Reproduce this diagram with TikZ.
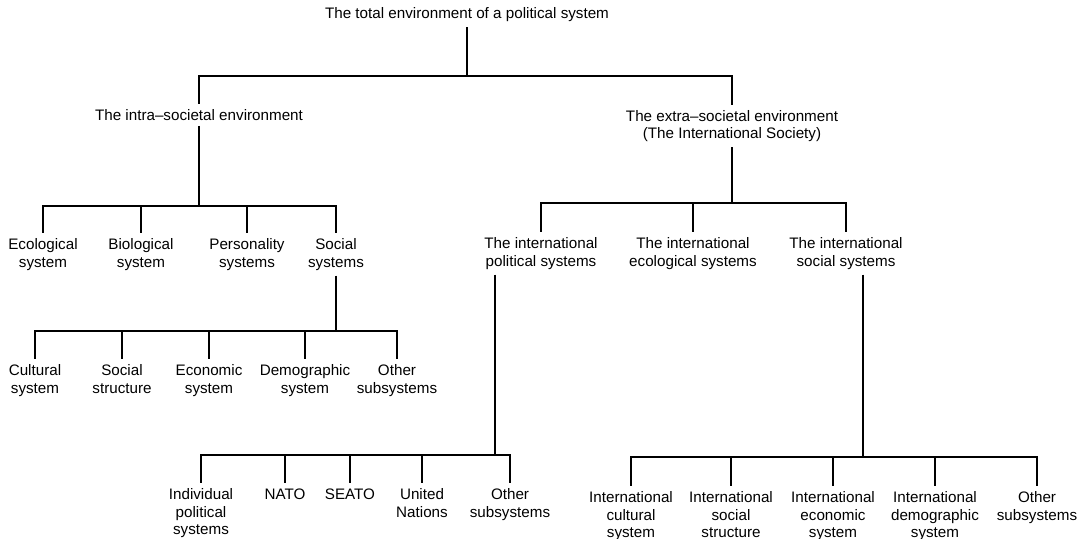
\documentclass[tikz,border=0pt]{standalone}
\usepackage{fontspec}
\setmainfont{Liberation Sans}

\begin{document}
\begin{tikzpicture}[x=0.5pt, y=-0.5pt,
    box/.style={align=center, inner sep=2.5pt, font=\fontsize{7.6}{8.8}\selectfont},
    top/.style={box, anchor=north},
    link/.style={draw, line width=1.1pt}]
\useasboundingbox (0,0) rectangle (1080,538);

\node[box] (total) at (467,15) {The total environment of a political system};
\coordinate (b0) at (467,76);
\path[link] (total) -- (b0);

\node[box] (intra) at (199,115) {The intra--societal environment};
\node[box] (extra) at (732,126) {The extra--societal environment\\(The International Society)};
\path[link] (b0) -| (intra);
\path[link] (b0) -| (extra);

% intra-societal side
\coordinate (b1) at (199,206);
\path[link] (intra) -- (b1);
\node[top] (eco) at (43,233) {Ecological\\system};
\node[top] (bio) at (141,233) {Biological\\system};
\node[top] (pers) at (247,233) {Personality\\systems};
\node[top] (soc) at (336,233) {Social\\systems};
\path[link] (b1) -| (eco);
\path[link] (b1) -| (bio);
\path[link] (b1) -| (pers);
\path[link] (b1) -| (soc);

\coordinate (b2) at (336,331);
\path[link] (soc) -- (b2);
\node[top] (cult) at (35,359) {Cultural\\system};
\node[top] (sstr) at (122,359) {Social\\structure};
\node[top] (econ) at (209,359) {Economic\\system};
\node[top] (demo) at (305,359) {Demographic\\system};
\node[top] (oth1) at (397,359) {Other\\subsystems};
\path[link] (b2) -| (cult);
\path[link] (b2) -| (sstr);
\path[link] (b2) -| (econ);
\path[link] (b2) -| (demo);
\path[link] (b2) -| (oth1);

% extra-societal side
\coordinate (b3) at (732,203);
\path[link] (extra) -- (b3);
\node[top] (ipol) at (541,232) {The international\\political systems};
\node[top] (iecol) at (693,232) {The international\\ecological systems};
\node[top] (isoc) at (846,232) {The international\\social systems};
\path[link] (b3) -| (ipol);
\path[link] (b3) -| (iecol);
\path[link] (b3) -| (isoc);

\coordinate (b4) at (495,455);
\path[link] (b4 |- ipol.south) -- (b4);
\node[top] (indiv) at (201,483) {Individual\\political\\systems};
\node[top] (nato) at (285,483) {NATO};
\node[top] (seato) at (350,483) {SEATO};
\node[top] (un) at (422,483) {United\\Nations};
\node[top] (oth2) at (510,483) {Other\\subsystems};
\path[link] (b4) -| (indiv);
\path[link] (b4) -| (nato);
\path[link] (b4) -| (seato);
\path[link] (b4) -| (un);
\path[link] (b4) -| (oth2);

\coordinate (b5) at (863,457);
\path[link] (b5 |- isoc.south) -- (b5);
\node[top] (icult) at (631,486) {International\\cultural\\system};
\node[top] (isstr) at (731,486) {International\\social\\structure};
\node[top] (iecon) at (833,486) {International\\economic\\system};
\node[top] (idemo) at (935,486) {International\\demographic\\system};
\node[top] (oth3) at (1037,486) {Other\\subsystems};
\path[link] (b5) -| (icult);
\path[link] (b5) -| (isstr);
\path[link] (b5) -| (iecon);
\path[link] (b5) -| (idemo);
\path[link] (b5) -| (oth3);
\end{tikzpicture}
\end{document}
